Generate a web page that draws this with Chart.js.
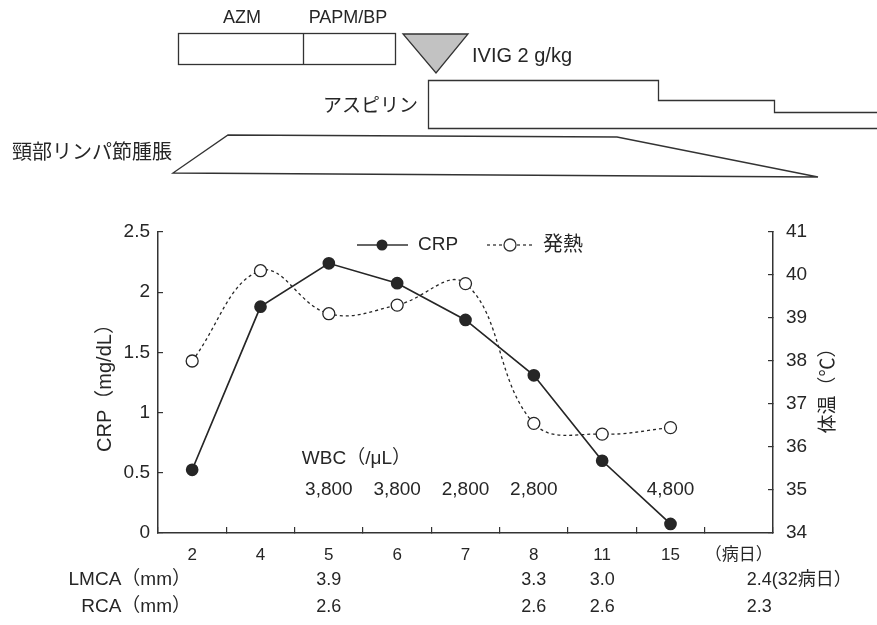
<!DOCTYPE html>
<html>
<head>
<meta charset="utf-8">
<script src="https://cdn.jsdelivr.net/npm/chart.js@4"></script>
<style>
  html, body { margin: 0; padding: 0; background: #fff; }
  #wrap { width: 877px; height: 625px; position: relative; }
</style>
</head>
<body>
<div id="wrap"><canvas id="chart" width="877" height="625"></canvas></div>
<script>
// ---- data ----
const days = ['2', '4', '5', '6', '7', '8', '11', '15', '（病日）'];
const crp = [0.525, 1.88, 2.24, 2.075, 1.77, 1.31, 0.60, 0.075, null];
const fever = [38.0, 40.1, 39.1, 39.3, 39.8, 36.55, 36.3, 36.45, null];
const crpTicks = [0, 0.5, 1, 1.5, 2, 2.5];
const crpTickLabels = ['0', '0.5', '1', '1.5', '2', '2.5'];
const feverTicks = [34, 35, 36, 37, 38, 39, 40, 41];
const feverTickLabels = ['34', '35', '36', '37', '38', '39', '40', '41'];
const wbc = [null, null, '3,800', '3,800', '2,800', '2,800', null, '4,800', null];
const lmca = [null, null, '3.9', null, null, '3.3', '3.0', null, '2.4(32病日）'];
const rca = [null, null, '2.6', null, null, '2.6', '2.6', null, '2.3'];

const FONT = "'Liberation Sans', 'Noto Sans CJK JP', sans-serif";
const INK = '#262626';
const LINE = '#333';

// draw a text at given spot
function txt(ctx, s, x, y, size, align) {
    ctx.font = size + 'px ' + FONT;
    ctx.textAlign = align || 'center';
    ctx.textBaseline = 'middle';
    ctx.fillStyle = INK;
    ctx.fillText(s, x, y);
}

// treatment timeline, legend, table rows and axis titles
const extras = {
    id: 'extras',
    afterDraw(chart) {
        const ctx = chart.ctx;
        const xs = chart.scales.x;
        ctx.save();
        ctx.strokeStyle = LINE;
        ctx.lineWidth = 1.3;

        // antibiotics box
        txt(ctx, 'AZM', 242, 18, 18);
        txt(ctx, 'PAPM/BP', 348, 18, 18);
        ctx.strokeRect(178.5, 33.5, 217, 31);
        ctx.beginPath(); ctx.moveTo(303.5, 33.5); ctx.lineTo(303.5, 64.5); ctx.stroke();

        // IVIG triangle
        ctx.beginPath();
        ctx.moveTo(403, 34); ctx.lineTo(468, 34); ctx.lineTo(436, 73); ctx.closePath();
        ctx.fillStyle = '#c2c2c2'; ctx.fill(); ctx.stroke();
        txt(ctx, 'IVIG 2 g/kg', 472, 56, 20, 'left');

        // aspirin steps
        txt(ctx, 'アスピリン', 418, 107, 19, 'right');
        ctx.beginPath();
        ctx.moveTo(877, 112.5); ctx.lineTo(774.5, 112.5); ctx.lineTo(774.5, 100.5);
        ctx.lineTo(658.5, 100.5); ctx.lineTo(658.5, 80.5); ctx.lineTo(428.5, 80.5);
        ctx.lineTo(428.5, 128.5); ctx.lineTo(877, 128.5);
        ctx.stroke();

        // lymph node swelling
        txt(ctx, '頸部リンパ節腫脹', 12, 153, 20, 'left');
        ctx.beginPath();
        ctx.moveTo(173, 173); ctx.lineTo(228, 135); ctx.lineTo(617, 137);
        ctx.lineTo(818, 177); ctx.closePath();
        ctx.stroke();

        // legend
        const ly = 245;
        ctx.lineWidth = 1.7;
        ctx.setLineDash([]);
        ctx.beginPath(); ctx.moveTo(357, ly); ctx.lineTo(408, ly); ctx.stroke();
        ctx.beginPath(); ctx.arc(382, ly, 5.5, 0, Math.PI * 2); ctx.fillStyle = INK; ctx.fill();
        txt(ctx, 'CRP', 418, ly, 19, 'left');
        ctx.lineWidth = 1.3;
        ctx.setLineDash([3, 3]);
        ctx.beginPath(); ctx.moveTo(487, ly); ctx.lineTo(533, ly); ctx.stroke();
        ctx.setLineDash([]);
        ctx.beginPath(); ctx.arc(510, ly, 6, 0, Math.PI * 2);
        ctx.fillStyle = '#fff'; ctx.fill(); ctx.stroke();
        txt(ctx, '発熱', 543, ly, 20, 'left');

        // WBC values under the curve
        txt(ctx, 'WBC（/μL）', xs.getPixelForValue(2) - 27, 459, 19, 'left');
        wbc.forEach((v, i) => { if (v) txt(ctx, v, xs.getPixelForValue(i), 490, 19); });

        // coronary artery rows
        txt(ctx, 'LMCA（mm）', 191, 580, 19, 'right');
        txt(ctx, 'RCA（mm）', 191, 607, 19, 'right');
        const last = days.length - 1;
        [[lmca, 580], [rca, 607]].forEach(([row, y]) => {
            row.forEach((v, i) => {
                if (!v) return;
                if (i === last) txt(ctx, v, xs.getPixelForValue(i) + 8, y, 18, 'left');
                else txt(ctx, v, xs.getPixelForValue(i), y, 18);
            });
        });

        // axis titles (both read bottom to top)
        ctx.save();
        ctx.translate(105, 383); ctx.rotate(-Math.PI / 2);
        txt(ctx, 'CRP（mg/dL）', 0, 0, 20);
        ctx.restore();
        ctx.save();
        ctx.translate(829, 386); ctx.rotate(-Math.PI / 2);
        txt(ctx, '体温（℃）', 0, 0, 19);
        ctx.restore();

        ctx.restore();
    }
};

new Chart(document.getElementById('chart'), {
    type: 'line',
    data: {
        labels: days,
        datasets: [
            {
                label: '発熱',
                data: fever,
                yAxisID: 'y1',
                borderColor: INK,
                borderWidth: 1.3,
                borderDash: [3, 3],
                tension: 0.4,
                pointRadius: 6,
                pointBackgroundColor: '#fff',
                pointBorderColor: INK,
                pointBorderWidth: 1.3,
                order: 2
            },
            {
                label: 'CRP',
                data: crp,
                yAxisID: 'y',
                borderColor: INK,
                borderWidth: 1.7,
                tension: 0,
                pointRadius: 5.5,
                pointBackgroundColor: INK,
                pointBorderColor: INK,
                order: 1
            }
        ]
    },
    options: {
        responsive: false,
        animation: false,
        layout: { padding: { top: 232, left: 0, right: 0, bottom: 0 } },
        plugins: { legend: { display: false }, tooltip: { enabled: false } },
        scales: {
            x: {
                type: 'category',
                offset: true,
                grid: { offset: true, drawOnChartArea: false, drawTicks: true, tickLength: -6, color: LINE, lineWidth: 1.2 },
                border: { display: true, color: LINE, width: 1.5 },
                ticks: { color: INK, font: { size: 17, family: FONT }, padding: 18, maxRotation: 0, autoSkip: false },
                afterFit: s => { s.height = 92; }
            },
            y: {
                position: 'left',
                min: 0, max: 2.5,
                afterBuildTicks: s => { s.ticks = crpTicks.map(v => ({ value: v })); },
                grid: { drawOnChartArea: false, drawTicks: true, tickLength: -5, color: LINE, lineWidth: 1.2 },
                border: { display: true, color: LINE, width: 1.5 },
                ticks: { color: INK, font: { size: 19, family: FONT }, padding: 13,
                         callback: (v, i) => crpTickLabels[i] },
                afterFit: s => { s.width = 158; }
            },
            y1: {
                position: 'right',
                min: 34, max: 41,
                afterBuildTicks: s => { s.ticks = feverTicks.map(v => ({ value: v })); },
                grid: { drawOnChartArea: false, drawTicks: true, tickLength: -5, color: LINE, lineWidth: 1.2 },
                border: { display: true, color: LINE, width: 1.5 },
                ticks: { color: INK, font: { size: 19, family: FONT }, padding: 18,
                         callback: (v, i) => feverTickLabels[i] },
                afterFit: s => { s.width = 104; }
            }
        }
    },
    plugins: [extras]
});
</script>
</body>
</html>
